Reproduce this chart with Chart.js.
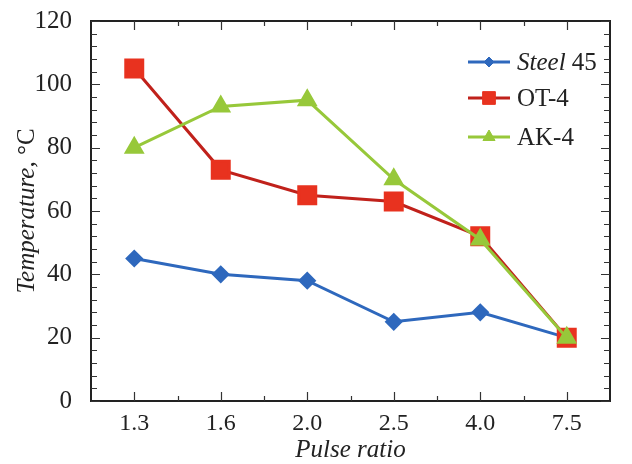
<!DOCTYPE html>
<html><head><meta charset="utf-8">
<script src="https://cdn.jsdelivr.net/npm/chart.js@4"></script>
<style>html,body{margin:0;padding:0;background:#fff}#wrap{width:632px;height:464px}</style>
</head><body><div id="wrap"><canvas id="c" width="632" height="464"></canvas></div>
<script>
const categories = ['1.3', '1.6', '2.0', '2.5', '4.0', '7.5'];
const steel45 = [45, 40, 38, 25, 28, 20];
const ot4 = [105, 73, 65, 63, 52, 20];
const ak4 = [80, 93, 95, 70, 51, 20];
const yTicks = [0, 20, 40, 60, 80, 100, 120];

const FONT = "'Liberation Serif', 'Times New Roman', serif";
const C_BLUE = '#2e68bd', C_RED = '#e8321f', C_REDL = '#c0211b', C_GREEN = '#97c83a';

const framePlugin = {
  id: 'frame',
  afterDraw(chart) {
    const ctx = chart.ctx, a = chart.chartArea;
    const x = chart.scales.x, y = chart.scales.y;
    ctx.save();
    ctx.strokeStyle = '#222';
    ctx.lineWidth = 2;
    ctx.strokeRect(a.left, a.top, a.right - a.left, a.bottom - a.top);
    ctx.lineWidth = 1.2;
    ctx.strokeStyle = '#333';
    ctx.beginPath();
    for (let v = 0; v <= 120; v += 4) {
      const py = Math.round(y.getPixelForValue(v)) + 0.5;
      const len = v % 20 === 0 ? 9 : 6;
      ctx.moveTo(a.left, py); ctx.lineTo(a.left + len, py);
      ctx.moveTo(a.right, py); ctx.lineTo(a.right - len, py);
    }
    for (let i = 0; i < categories.length; i++) {
      const px = Math.round(x.getPixelForValue(i)) + 0.5;
      ctx.moveTo(px, a.bottom); ctx.lineTo(px, a.bottom - 9);
      ctx.moveTo(px, a.top); ctx.lineTo(px, a.top + 9);
      if (i < categories.length - 1) {
        const pm = Math.round((x.getPixelForValue(i) + x.getPixelForValue(i + 1)) / 2) + 0.5;
        ctx.moveTo(pm, a.bottom); ctx.lineTo(pm, a.bottom - 5);
        ctx.moveTo(pm, a.top); ctx.lineTo(pm, a.top + 5);
      }
    }
    ctx.stroke();

    // axis titles
    ctx.fillStyle = '#222';
    ctx.textBaseline = 'alphabetic';
    ctx.font = 'italic 25px ' + FONT;
    ctx.textAlign = 'center';
    ctx.fillText('Pulse ratio', (a.left + a.right) / 2, 457);

    ctx.save();
    ctx.translate(34, 211);
    ctx.rotate(-Math.PI / 2);
    const t1 = 'Temperature, ', t2 = '°C';
    ctx.font = 'italic 25px ' + FONT;
    const w1 = ctx.measureText(t1).width;
    ctx.font = '25px ' + FONT;
    const w2 = ctx.measureText(t2).width;
    let sx = -(w1 + w2) / 2;
    ctx.textAlign = 'left';
    ctx.font = 'italic 25px ' + FONT;
    ctx.fillText(t1, sx, 0);
    ctx.font = '25px ' + FONT;
    ctx.fillText(t2, sx + w1, 0);
    ctx.restore();

    // legend
    const items = [
      {parts: [['Steel', true], [' 45', false]], color: C_BLUE, mcolor: C_BLUE, style: 'rectRot', r: 5, y: 62},
      {parts: [['OT-4', false]], color: C_REDL, mcolor: C_RED, style: 'rect', r: 9, y: 98},
      {parts: [['AK-4', false]], color: C_GREEN, mcolor: C_GREEN, style: 'triangle', r: 7, y: 137}
    ];
    for (const it of items) {
      ctx.strokeStyle = it.color;
      ctx.lineWidth = 3;
      ctx.beginPath();
      ctx.moveTo(468, it.y); ctx.lineTo(510, it.y);
      ctx.stroke();
      ctx.fillStyle = it.mcolor;
      ctx.strokeStyle = it.mcolor;
      ctx.lineWidth = 1;
      Chart.helpers.drawPoint(ctx, {pointStyle: it.style, radius: it.r, rotation: 0, borderWidth: 1}, 489, it.y);
      let tx = 517;
      ctx.fillStyle = '#222';
      ctx.textAlign = 'left';
      ctx.textBaseline = 'middle';
      for (const [txt, ital] of it.parts) {
        ctx.font = (ital ? 'italic ' : '') + '25px ' + FONT;
        ctx.fillText(txt, tx, it.y + 1);
        tx += ctx.measureText(txt).width;
      }
    }
    ctx.restore();
  }
};

new Chart(document.getElementById('c'), {
  type: 'line',
  data: {
    labels: categories,
    datasets: [
      {label: 'Steel 45', data: steel45, borderColor: C_BLUE, backgroundColor: C_BLUE, pointBackgroundColor: C_BLUE, pointBorderColor: C_BLUE,
        pointStyle: 'rectRot', pointRadius: 7, borderWidth: 3, order: 2, tension: 0},
      {label: 'OT-4', data: ot4, borderColor: C_REDL, backgroundColor: C_RED, pointBackgroundColor: C_RED, pointBorderColor: C_RED,
        pointStyle: 'rect', pointRadius: 12, borderWidth: 3, order: 1, tension: 0},
      {label: 'AK-4', data: ak4, borderColor: C_GREEN, backgroundColor: C_GREEN, pointBackgroundColor: C_GREEN, pointBorderColor: C_GREEN,
        pointStyle: 'triangle', pointRadius: 9, borderWidth: 3, order: 0, tension: 0}
    ]
  },
  options: {
    responsive: false,
    animation: false,
    devicePixelRatio: 1,
    layout: {padding: {left: 0, right: 22, top: 21, bottom: 0}},
    plugins: {legend: {display: false}, tooltip: {enabled: false}},
    scales: {
      x: {
        offset: true,
        grid: {display: false},
        border: {display: false},
        ticks: {color: '#222', font: {family: FONT, size: 24}, padding: 0, maxRotation: 0},
        afterFit(s) { s.height = 63; s.paddingLeft = 0; s.paddingRight = 0; }
      },
      y: {
        min: 0, max: 120,
        afterBuildTicks(s) { s.ticks = yTicks.map(v => ({value: v})); },
        grid: {display: false},
        border: {display: false},
        ticks: {color: '#222', font: {family: FONT, size: 25}, padding: 11},
        afterFit(s) { s.width = 91; s.paddingTop = 0; s.paddingBottom = 0; }
      }
    }
  },
  plugins: [framePlugin]
});
</script>
</body></html>
